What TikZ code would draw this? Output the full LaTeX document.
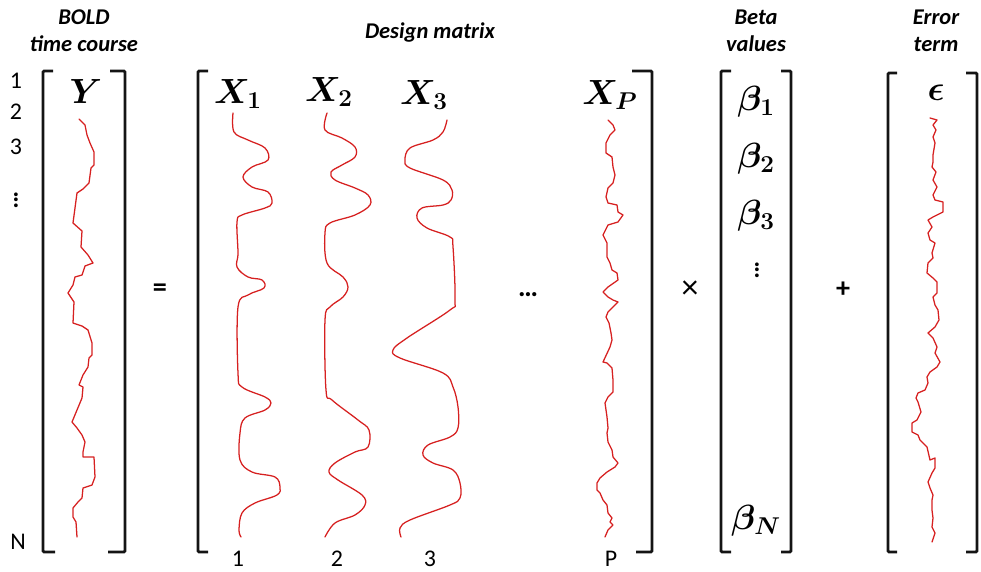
\documentclass[tikz,border=0pt]{standalone}
\usepackage{amsmath,bm}
\usepackage{fontspec}
\setmainfont{Carlito}
\usetikzlibrary{positioning}
\definecolor{glmred}{RGB}{214,32,32}
\definecolor{glmblack}{RGB}{20,20,20}

\begin{document}
\begin{tikzpicture}[x=0.025cm, y=-0.025cm,
    brk/.style={draw=glmblack, line width=2.1pt, rounded corners=0.8pt},
    sig/.style={draw=glmred, line width=0.9pt, line join=round, line cap=round},
    ttl/.style={font=\fontsize{16}{19}\selectfont\bfseries\itshape, align=center, inner sep=0pt},
    idx/.style={font=\fontsize{17}{19}\selectfont, inner sep=0pt},
    sym/.style={font=\fontsize{26}{28}\selectfont, inner sep=0pt},
    opr/.style={font=\fontsize{20}{22}\selectfont\bfseries, inner sep=0pt},
]
\useasboundingbox (0,0) rectangle (981,572);

% headings
\node[ttl] (ttlY) at (84,31) {BOLD\\time course};
\node[ttl] (ttlX) at (430,33) {Design matrix};
\node[ttl] (ttlB) at (756,31) {Beta\\values};
\node[ttl] (ttlE) at (936,31) {Error\\term};

% brackets
\draw[brk] (53,71) -- (43,71) -- (43,552) -- (55,552);
\draw[brk] (110,71) -- (125,71) -- (125,552) -- (108,552);
\draw[brk] (208,71) -- (198,71) -- (198,552) -- (208,552);
\draw[brk] (632,71) -- (652,71) -- (652,552) -- (636,552);
\draw[brk] (731,71) -- (721,71) -- (721,552) -- (731,552);
\draw[brk] (781,71) -- (791,71) -- (791,552) -- (781,552);
\draw[brk] (897,73) -- (888,73) -- (888,552) -- (897,552);
\draw[brk] (966,73) -- (977,73) -- (977,552) -- (966,552);

% row indices
\node[idx] (row1) at (16,81) {1};
\node[idx] (row2) at (16,112) {2};
\node[idx] (row3) at (16,147) {3};
\node[idx, font=\fontsize{18}{20}\selectfont\bfseries] (rowd) at (16,196) {$\vdots$};
\node[idx] (rowN) at (18,542) {N};

% column indices
\node[idx] (col1) at (238,559) {1};
\node[idx] (col2) at (337,559) {2};
\node[idx] (col3) at (430,559) {3};
\node[idx] (colP) at (611,559) {P};

% symbols
\node[sym] (lblY) at (86,91) {$\bm{Y}$};
\node[sym] (lblX1) at (238,94) {$\bm{X_1}$};
\node[sym] (lblX2) at (329,92) {$\bm{X_2}$};
\node[sym] (lblX3) at (424,95) {$\bm{X_3}$};
\node[sym] (lblXP) at (610,95) {$\bm{X_P}$};
\node[sym] (lblB1) at (756,102) {$\bm{\beta_1}$};
\node[sym] (lblB2) at (756,159) {$\bm{\beta_2}$};
\node[sym] (lblB3) at (756,216) {$\bm{\beta_3}$};
\node[sym, font=\fontsize{18}{20}\selectfont] (lblBd) at (757,266) {$\bm{\vdots}$};
\node[sym] (lblBN) at (756,521) {$\bm{\beta_N}$};
\node[sym] (lblE) at (936,93) {$\bm{\epsilon}$};

% operators
\node[opr] (opEq) at (160,290) {=};
\node[opr] (opDots) at (528,295) {…};
\node[opr, font=\fontsize{24}{26}\selectfont] (opTimes) at (690,290) {×};
\node[opr] (opPlus) at (843,290) {+};

% BOLD signal
\draw[sig] plot coordinates {(79,119) (85,125) (87,135) (90,143) (94,152) (94,165) (91,168)
  (89,183) (83,189) (77,193) (75,208) (73,223) (82,231) (81,247) (88,255) (93,263) (85,266)
  (82,275) (75,277) (73,285) (68,293) (74,302) (73,323) (82,326) (88,330) (92,343) (92,355)
  (89,358) (88,367) (83,375) (79,385) (83,387) (82,398) (77,410) (72,422) (77,428) (82,435)
  (85,442) (83,452) (83,457) (94,457) (95,477) (92,485) (83,488) (82,498) (78,502) (73,508)
  (73,517) (76,522) (77,537)};

% regressors
\draw[sig] plot[smooth, tension=0.6] coordinates {(233,113) (234,132) (248,140) (265,148)
  (268,160) (252,167) (243,177) (252,187) (268,192) (272,203) (265,208) (242,215) (237,222)
  (238,253) (237,267) (248,277) (262,280) (264,288) (248,295) (238,307) (238,373) (242,387)
  (265,397) (271,403) (265,410) (245,418) (240,433) (240,460) (252,472) (275,477) (280,487)
  (277,495) (255,503) (242,513) (239,530) (241,537)};
\draw[sig] plot[smooth, tension=0.6] coordinates {(327,113) (325,130) (342,138) (355,147)
  (355,157) (342,165) (331,172) (335,180) (355,188) (368,195) (370,205) (355,215) (330,223)
  (325,233) (327,263) (343,277) (348,287) (343,297) (330,307) (325,320) (326,390) (332,400)
  (358,420) (369,430) (368,447) (355,452) (335,463) (329,472) (338,480) (362,495) (365,505)
  (355,515) (335,523) (325,537)};
\draw[sig] plot[smooth, tension=0.6] coordinates {(447,120) (443,132) (433,140) (410,148)
  (405,160) (410,168) (443,180) (452,190) (451,200) (443,205) (422,208) (417,218) (427,228)
  (450,237) (453,247) (455,300) (450,310) (407,338) (393,350) (400,358) (443,373) (453,387)
  (458,407) (458,428) (450,437) (428,445) (423,455) (433,463) (453,470) (460,483) (460,498)
  (450,505) (410,520) (400,528) (401,537)};
\draw[sig] plot coordinates {(608,120) (613,125) (615,130) (610,135) (606,143) (606,153)
  (612,157) (613,167) (615,175) (613,183) (608,188) (606,197) (608,203) (617,205) (618,212)
  (623,215) (618,222) (608,225) (603,235) (607,243) (607,257) (610,263) (612,270) (617,273)
  (618,280) (608,287) (603,292) (608,297) (613,300) (618,302) (613,307) (608,312) (606,317)
  (609,323) (611,333) (612,340) (610,347) (603,362) (607,363) (612,368) (613,380) (613,392)
  (608,397) (605,403) (607,417) (608,428) (607,433) (608,442) (612,450) (613,457) (618,463)
  (615,467) (607,472) (600,478) (597,483) (597,490) (600,493) (603,500) (607,505) (608,513)
  (612,518) (610,522) (613,525) (608,530) (605,537)};

% residuals
\draw[sig] plot coordinates {(930,118) (937,120) (933,125) (936,130) (933,137) (935,143)
  (933,155) (933,162) (932,167) (936,172) (933,180) (937,187) (933,195) (935,200) (943,202)
  (943,212) (933,217) (928,220) (932,227) (928,233) (930,240) (935,243) (932,253) (933,258)
  (928,263) (927,273) (933,278) (937,282) (937,293) (933,297) (935,305) (938,310) (939,320)
  (935,327) (928,333) (933,338) (937,347) (935,353) (940,362) (937,367) (930,372) (927,377)
  (928,383) (925,390) (918,393) (916,398) (918,402) (921,412) (917,420) (912,423) (912,432)
  (918,435) (920,440) (927,447) (930,460) (935,458) (935,468) (932,473) (928,482) (930,488)
  (933,495) (932,500) (932,510) (933,518) (932,527) (935,533) (932,542)};
\end{tikzpicture}
\end{document}
